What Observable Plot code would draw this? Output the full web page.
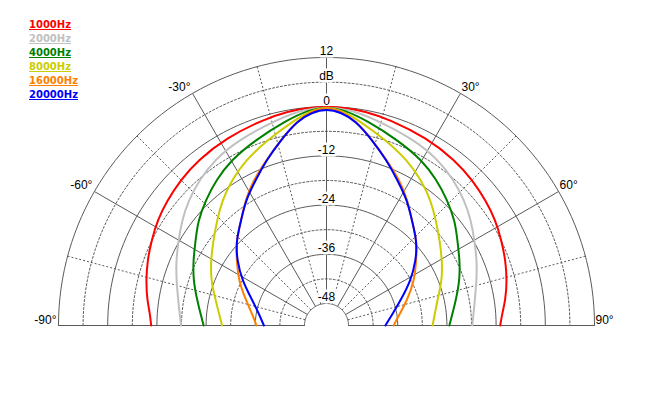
<!DOCTYPE html>
<html><head><meta charset="utf-8">
<script src="https://cdn.jsdelivr.net/npm/d3@7"></script>
<script src="https://cdn.jsdelivr.net/npm/@observablehq/plot@0.6"></script>
<style>
body{margin:0;background:#fff;}
#wrap{position:relative;width:650px;height:411px;}
#legend{position:absolute;left:29px;top:17.5px;font:bold 10px "DejaVu Sans",sans-serif;line-height:14px;z-index:2;}
#legend div{text-decoration:underline;}
</style></head><body><div id="wrap"><div id="legend"></div></div>
<script>
const freqs = ["1000Hz","2000Hz","4000Hz","8000Hz","16000Hz","20000Hz"];
const colors = ["#ff0000","#c0c0c0","#008000","#cccc00","#ff8000","#0000ff"];

const angles1000 = [-90,-86,-82,-76,-70,-64,-58,-52,-45,-38,-28,-17,-10,-5,0,5,10,17,28,38,45,52,58,64,70,76,82,86,90];
const db1000 = [-10.6,-10.2,-9.2,-8.0,-6.9,-5.9,-4.8,-4.0,-3.1,-2.3,-1.5,-0.8,-0.3,-0.1,0,-0.1,-0.3,-0.8,-1.5,-2.3,-3.1,-4.0,-4.8,-5.9,-6.9,-8.0,-9.3,-10.4,-11.0];
const angles2000 = [-90,-80,-73,-67,-60,-54,-48,-41,-34,-25,-13,-6,0,6,13,25,34,41,48,54,60,67,73,80,90];
const db2000 = [-17.9,-16.6,-15.1,-13.5,-11.7,-9.8,-8.0,-6.2,-4.6,-3.2,-1.6,-0.4,0,-0.4,-1.6,-3.2,-4.6,-6.2,-8.0,-9.8,-11.7,-13.5,-15.1,-16.6,-17.8];
const angles4000 = [-90,-79,-71,-64,-57,-51,-44,-37,-30,-21,-11,-5,0,5,11,21,30,37,44,51,57,64,71,79,90];
const db4000 = [-23.4,-21.2,-19.0,-17.2,-15.3,-13.0,-10.9,-8.8,-6.8,-4.9,-2.4,-0.7,0,-0.7,-2.4,-4.9,-6.8,-8.8,-10.9,-13.0,-15.3,-17.2,-19.0,-21.2,-23.4];
const angles8000 = [-90,-77,-69,-61,-53,-46,-40,-33,-26,-18,-9,-4,0,4,9,18,26,33,40,46,53,61,69,77,90];
const db8000 = [-27.9,-25.6,-23.2,-21.1,-18.8,-16.3,-13.7,-11.0,-8.5,-6.0,-2.7,-0.8,0,-0.8,-2.7,-6.0,-8.5,-11.0,-13.7,-16.3,-18.8,-21.1,-23.2,-25.6,-27.5];
const angles16000 = [-90,-81,-73,-63,-54,-47,-39,-33,-27,-20,-14,-8,-4,0,4,8,14,20,27,33,39,47,54,63,73,81,90];
const db16000 = [-36.3,-35.0,-32.9,-29.3,-26.3,-23.2,-20.3,-17.0,-13.8,-10.5,-6.8,-2.9,-1.0,-0.1,-1.0,-2.9,-6.8,-10.5,-13.8,-17.0,-20.3,-23.2,-26.3,-29.3,-32.9,-35.3,-37.0];
const angles20000 = [-90,-80,-71,-62,-54,-47,-39,-33,-26,-20,-14,-8,-4,0,4,8,14,20,26,33,39,47,54,62,71,80,90];
const db20000 = [-38.1,-36.6,-34.2,-30.1,-26.4,-23.2,-20.3,-17.1,-13.9,-10.5,-6.9,-2.9,-1.3,-0.5,-1.3,-2.9,-6.9,-10.5,-13.9,-17.1,-20.3,-23.2,-26.4,-30.1,-34.2,-37.0,-39.0];

const dbTicks = [-48,-36,-24,-12,0,12];
const dbMinor = [-42,-30,-18,-6,6];
const angleTicks = [-90,-60,-30,0,30,60,90];
const angleMinor = [-75,-45,-15,15,45,75];
const angleLabelsNeg = [-90,-60,-30];
const angleLabelsPos = [30,60,90];

const DB_CENTER = -53.37, DB_INNER = -48, DB_OUTER = 12;
const lon = a => 180 - a;
const lat = d => 90 - (d - DB_CENTER);

const series = [
  [angles1000, db1000], [angles2000, db2000], [angles4000, db4000],
  [angles8000, db8000], [angles16000, db16000], [angles20000, db20000]
].map(([A, D], k) => A.map((a, i) => ({a, db: D[i], f: freqs[k]})));

const arcPts = (levels) => levels.flatMap(db => d3.range(-90, 90.001, 2).map(a => ({a, db})));

const projection = d3.geoAzimuthalEquidistant()
  .rotate([0, -90])
  .scale(4.1 * 180 / Math.PI)
  .translate([326, 325]);

const gridColor = "#5a5a5a";
const marks = [
  Plot.line(arcPts(dbMinor), {x: d => lon(d.a), y: d => lat(d.db), z: "db", stroke: gridColor, strokeWidth: 1, strokeDasharray: "2,2"}),
  Plot.link(angleMinor, {x1: a => lon(a), y1: () => lat(DB_INNER), x2: a => lon(a), y2: () => lat(DB_OUTER), stroke: gridColor, strokeWidth: 1, strokeDasharray: "2,2"}),
  Plot.line(arcPts(dbTicks), {x: d => lon(d.a), y: d => lat(d.db), z: "db", stroke: gridColor, strokeWidth: 1}),
  Plot.link(angleTicks, {x1: a => lon(a), y1: () => lat(DB_INNER), x2: a => lon(a), y2: () => lat(DB_OUTER), stroke: gridColor, strokeWidth: 1}),
  Plot.text(dbTicks, {x: () => lon(0), y: d => lat(d), text: d => String(d), lineAnchor: "bottom", dy: -2, fontSize: 12, fill: "black", stroke: "white", strokeWidth: 5, strokeLinejoin: "round"}),
  Plot.text(["dB"], {x: () => lon(0), y: () => lat(6), text: d => d, lineAnchor: "bottom", dy: -2, fontSize: 12, fill: "black", stroke: "white", strokeWidth: 5, strokeLinejoin: "round"}),
  Plot.text(angleLabelsNeg, {x: a => lon(a), y: () => lat(DB_OUTER), text: a => a + "°", textAnchor: "end", lineAnchor: "bottom", dx: -2, dy: -2, fontSize: 12, fill: "black"}),
  Plot.text(angleLabelsPos, {x: a => lon(a), y: () => lat(DB_OUTER), text: a => a + "°", textAnchor: "start", lineAnchor: "bottom", dx: 1, dy: -2, fontSize: 12, fill: "black"}),
  ...series.map((s, k) => Plot.line(s, {x: d => lon(d.a), y: d => lat(d.db), stroke: colors[k], strokeWidth: 2, curve: "basis"}))
];

const chart = Plot.plot({
  width: 650, height: 411, margin: 0,
  projection,
  style: {fontFamily: '"Liberation Sans", Arial, sans-serif', fontSize: "12px", background: "white", overflow: "visible"},
  marks
});
document.getElementById("wrap").appendChild(chart);

const legend = document.getElementById("legend");
freqs.forEach((f, k) => {
  const d = document.createElement("div");
  d.textContent = f; d.style.color = colors[k];
  legend.appendChild(d);
});
</script></body></html>
